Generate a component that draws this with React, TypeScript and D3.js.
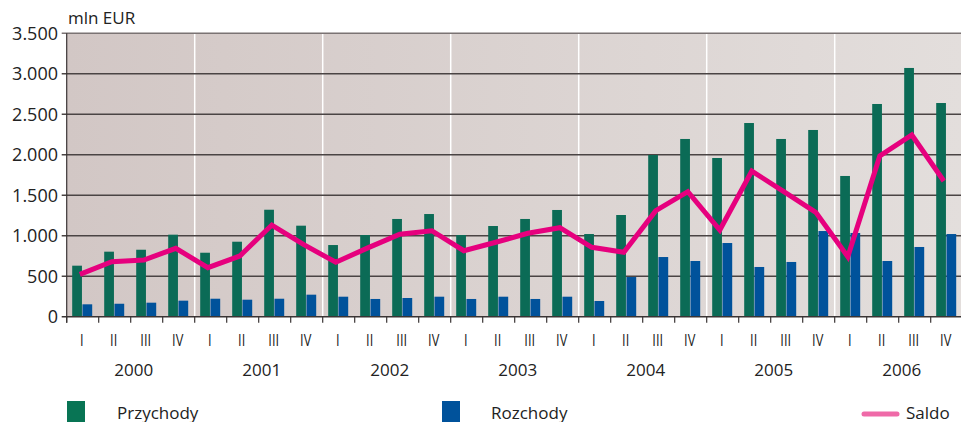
import React, { useEffect, useRef } from 'react'
import * as d3 from 'd3'

const years = ['2000', '2001', '2002', '2003', '2004', '2005', '2006']
const quarters = ['I', 'II', 'III', 'IV']
const przychody = [
  630, 803, 827, 1013, 790, 926, 1321, 1124, 885, 1009, 1207, 1268, 1009, 1120, 1207, 1318,
  1021, 1256, 1997, 2195, 1960, 2392, 2195, 2306, 1738, 2627, 3072, 2639,
]
const rozchody = [
  153, 160, 173, 198, 222, 210, 222, 272, 247, 219, 231, 247, 219, 247, 219, 247,
  194, 490, 737, 688, 910, 614, 676, 1058, 1034, 688, 861, 1021,
]
const saldo = [
  523, 679, 700, 845, 605, 750, 1132, 890, 672, 850, 1018, 1062, 815, 919, 1030, 1099,
  857, 795, 1309, 1544, 1071, 1799, 1544, 1289, 741, 1985, 2244, 1676,
]
const yTicks = [0, 500, 1000, 1500, 2000, 2500, 3000, 3500]

const GREEN = '#0b6b56'
const BLUE = '#00529b'
const PINK = '#e6007e'

const App = () => {
  const ref = useRef<SVGSVGElement>(null)

  useEffect(() => {
    document.body.style.margin = '0'
    const svg = d3.select(ref.current)
    svg.selectAll('*').remove()

    const width = 961
    const height = 422
    const left = 66.7
    const top = 33.3
    const bottom = 316.7
    const font = "'Open Sans', sans-serif"

    const keys = years.flatMap((y) => quarters.map((q) => `${y}-${q}`))
    const x = d3.scaleBand().domain(keys).range([left, left + 28 * 32]).padding(0)
    const bw = x.bandwidth()
    const xs = d3.scaleBand().domain(['p', 'r']).range([5.5, 25.5]).paddingInner(0.05)
    const y = d3.scaleLinear().domain([0, 3500]).range([bottom, top])

    svg.attr('width', width).attr('height', height).style('display', 'block')

    const defs = svg.append('defs')
    const grad = defs.append('linearGradient').attr('id', 'bg').attr('x1', 0).attr('x2', 1).attr('y1', 0).attr('y2', 0)
    grad.append('stop').attr('offset', 0).attr('stop-color', '#d2c7c5')
    grad.append('stop').attr('offset', 1).attr('stop-color', '#e3dedc')

    svg.append('rect').attr('x', left).attr('y', top).attr('width', width - left).attr('height', bottom - top).attr('fill', 'url(#bg)')

    // year separators
    svg.append('g').selectAll('line').data(years.slice(1)).join('line')
      .attr('x1', (d) => x(`${d}-I`)!).attr('x2', (d) => x(`${d}-I`)!)
      .attr('y1', top).attr('y2', bottom)
      .attr('stroke', '#fff').attr('stroke-width', 1.5)

    // gridlines
    svg.append('g').selectAll('line').data(yTicks.slice(1)).join('line')
      .attr('x1', left - 5).attr('x2', width)
      .attr('y1', (d) => y(d)).attr('y2', (d) => y(d))
      .attr('stroke', (d) => (d === 3500 ? '#7a7373' : '#4a4444')).attr('stroke-width', 1.5)

    // bars
    const g = svg.append('g')
    g.selectAll('rect.p').data(przychody).join('rect').attr('class', 'p')
      .attr('x', (_, i) => x(keys[i])! + xs('p')!).attr('width', xs.bandwidth())
      .attr('y', (d) => y(d)).attr('height', (d) => bottom - y(d)).attr('fill', GREEN)
    g.selectAll('rect.r').data(rozchody).join('rect').attr('class', 'r')
      .attr('x', (_, i) => x(keys[i])! + xs('r')!).attr('width', xs.bandwidth())
      .attr('y', (d) => y(d)).attr('height', (d) => bottom - y(d)).attr('fill', BLUE)

    // saldo line
    const line = d3.line<number>().x((_, i) => x(keys[i])! + bw * 0.41).y((d) => y(d))
    svg.append('path').datum(saldo).attr('d', line).attr('fill', 'none')
      .attr('stroke', PINK).attr('stroke-width', 5).attr('stroke-linejoin', 'miter')

    // axes
    svg.append('line').attr('x1', left).attr('x2', left).attr('y1', top).attr('y2', bottom + 6)
      .attr('stroke', '#3a3535').attr('stroke-width', 1.2)
    svg.append('line').attr('x1', left - 5).attr('x2', width).attr('y1', bottom).attr('y2', bottom)
      .attr('stroke', '#3a3535').attr('stroke-width', 1.5)
    svg.append('g').selectAll('line').data(keys).join('line')
      .attr('x1', (d) => x(d)!).attr('x2', (d) => x(d)!)
      .attr('y1', bottom).attr('y2', bottom + 6)
      .attr('stroke', '#3a3535').attr('stroke-width', 1.2)

    svg.append('g').selectAll('text').data(yTicks).join('text')
      .attr('x', 58).attr('y', (d) => y(d) + 6.5)
      .attr('text-anchor', 'end').attr('font-family', font).attr('font-size', 18).attr('fill', '#222')
      .text((d) => d3.format(',')(d).replace(/,/g, '.'))

    svg.append('text').attr('x', 68).attr('y', 24).attr('font-family', font).attr('font-size', 17).attr('fill', '#222').text('mln EUR')

    svg.append('g').selectAll('text').data(keys).join('text')
      .attr('x', (d) => x(d)! + bw / 2 - 1).attr('y', 346)
      .attr('text-anchor', 'middle').attr('font-family', font).attr('font-size', 16).attr('fill', '#222')
      .attr('transform-origin', (d) => `${x(d)! + bw / 2 - 1} 346`).attr('transform', 'scale(0.8,1)')
      .text((d) => d.split('-')[1])

    svg.append('g').selectAll('text').data(years).join('text')
      .attr('x', (d) => x(`${d}-I`)! + 2 * bw + 3).attr('y', 376)
      .attr('text-anchor', 'middle').attr('font-family', font).attr('font-size', 17).attr('fill', '#222')
      .text((d) => d)

    // legend
    const lg = svg.append('g').attr('font-family', font).attr('font-size', 17).attr('fill', '#222')
    lg.append('rect').attr('x', 67).attr('y', 401).attr('width', 18).attr('height', 21).attr('fill', '#087454')
    lg.append('text').attr('x', 117).attr('y', 419).text('Przychody')
    lg.append('rect').attr('x', 442).attr('y', 401).attr('width', 18).attr('height', 21).attr('fill', BLUE)
    lg.append('text').attr('x', 491).attr('y', 419).text('Rozchody')
    lg.append('line').attr('x1', 864).attr('x2', 897).attr('y1', 414).attr('y2', 414)
      .attr('stroke', '#ef6aa8').attr('stroke-width', 5).attr('stroke-linecap', 'round')
    lg.append('text').attr('x', 906).attr('y', 419).text('Saldo')
  }, [])

  return <svg ref={ref}></svg>
}

export default App
